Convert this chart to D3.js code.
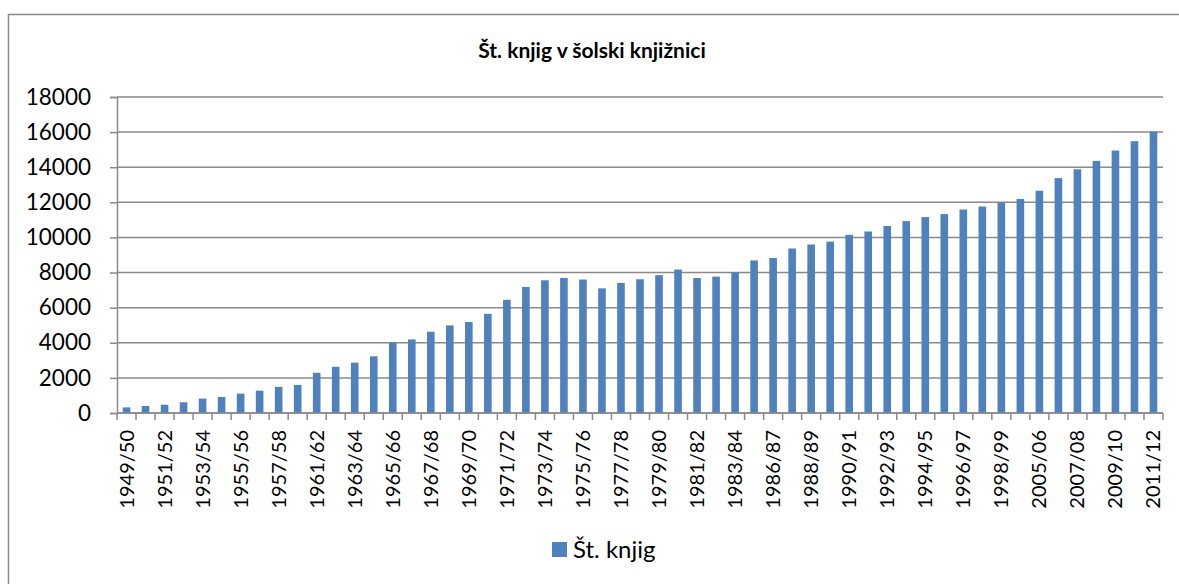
<!DOCTYPE html>
<html>
<head>
<meta charset="utf-8">
<script src="https://cdn.jsdelivr.net/npm/d3@7"></script>
<style>
  body { margin: 0; background: #fff; }
  text { font-family: Lato, "Open Sans", sans-serif; fill: #000; }
</style>
</head>
<body>
<script>
// school years (every second one gets a label, like in the original)
const years = ["1949/50","1950/51","1951/52","1952/53","1953/54","1954/55","1955/56","1956/57","1957/58","1960/61",
  "1961/62","1962/63","1963/64","1964/65","1965/66","1966/67","1967/68","1968/69","1969/70","1970/71",
  "1971/72","1972/73","1973/74","1974/75","1975/76","1976/77","1977/78","1978/79","1979/80","1980/81",
  "1981/82","1982/83","1983/84","1985/86","1986/87","1987/88","1988/89","1989/90","1990/91","1991/92",
  "1992/93","1993/94","1994/95","1995/96","1996/97","1997/98","1998/99","2004/05","2005/06","2006/07",
  "2007/08","2008/09","2009/10","2010/11","2011/12"];

// number of books
const books = [320,400,470,610,820,910,1100,1270,1490,1600,
  2290,2630,2870,3230,4000,4190,4630,4990,5180,5650,
  6450,7180,7560,7690,7600,7100,7410,7620,7850,8170,
  7690,7770,8020,8690,8830,9370,9600,9760,10150,10340,
  10650,10930,11160,11330,11590,11760,11970,12190,12660,13380,
  13880,14360,14950,15480,16030];

const yTicks = [0,2000,4000,6000,8000,10000,12000,14000,16000,18000];
const seriesName = "Št. knjig";
const title = "Št. knjig v šolski knjižnici";

const width = 1179, height = 584;
const svg = d3.select("body").append("svg")
    .attr("width", width)
    .attr("height", height);

// outer frame (runs off the right and bottom edge)
svg.append("rect")
    .attr("x", 8.5).attr("y", 14.5)
    .attr("width", width + 10).attr("height", height + 10)
    .attr("fill", "none")
    .attr("stroke", "#8a8a8a")
    .attr("stroke-width", 1.5);

const plotL = 117, plotR = 1163, plotT = 97, plotB = 413;

const x = d3.scaleBand()
    .domain(years)
    .range([plotL, plotR])
    .paddingInner(0.6)
    .paddingOuter(0.3);

const y = d3.scaleLinear()
    .domain([0, 18000])
    .range([plotB, plotT]);

// gridlines
svg.append("g")
    .selectAll("line")
    .data(yTicks)
    .enter().append("line")
    .attr("x1", plotL).attr("x2", plotR)
    .attr("y1", d => y(d)).attr("y2", d => y(d))
    .attr("stroke", "#8a8a8a")
    .attr("stroke-width", 1.5);

// y axis
const yAxis = svg.append("g")
    .attr("transform", `translate(${plotL},0)`)
    .call(d3.axisLeft(y).tickValues(yTicks).tickSize(7).tickPadding(19).tickFormat(d3.format("d")));
yAxis.select(".domain").attr("stroke", "#8a8a8a").attr("stroke-width", 1.5);
yAxis.selectAll(".tick line").attr("stroke", "#8a8a8a").attr("stroke-width", 1.5);
yAxis.selectAll("text")
    .style("font-family", "Lato, sans-serif")
    .style("font-size", "22.5px")
    .attr("fill", "#000");

// bars
svg.append("g")
    .selectAll("rect")
    .data(books)
    .enter().append("rect")
    .attr("x", (d, i) => x(years[i]))
    .attr("width", x.bandwidth())
    .attr("y", d => y(d))
    .attr("height", d => y(0) - y(d))
    .attr("fill", "#4f81bd");

// x axis line + tick marks on category borders
const step = x.step();
const borders = years.map(d => x(d) - step * x.paddingOuter()).concat([plotR]);
svg.append("line")
    .attr("x1", plotL).attr("x2", plotR)
    .attr("y1", plotB).attr("y2", plotB)
    .attr("stroke", "#8a8a8a")
    .attr("stroke-width", 1.5);
svg.append("g")
    .selectAll("line")
    .data(borders)
    .enter().append("line")
    .attr("x1", d => d).attr("x2", d => d)
    .attr("y1", plotB).attr("y2", plotB + 7)
    .attr("stroke", "#8a8a8a")
    .attr("stroke-width", 1.5);

// x labels, every second year, rotated
svg.append("g")
    .selectAll("text")
    .data(years.filter((d, i) => i % 2 === 0))
    .enter().append("text")
    .attr("transform", d => `translate(${x(d) + x.bandwidth() / 2},430) rotate(-90)`)
    .attr("text-anchor", "end")
    .attr("dy", "0.35em")
    .style("font-size", "20px")
    .text(d => d);

// title
svg.append("text")
    .attr("x", 592).attr("y", 58)
    .attr("text-anchor", "middle")
    .style("font-size", "21px")
    .style("font-weight", "bold")
    .text(title);

// legend
svg.append("rect")
    .attr("x", 552).attr("y", 542)
    .attr("width", 15).attr("height", 15)
    .attr("fill", "#4f81bd");
svg.append("text")
    .attr("x", 573).attr("y", 558)
    .style("font-size", "24px")
    .text(seriesName);
</script>
</body>
</html>
